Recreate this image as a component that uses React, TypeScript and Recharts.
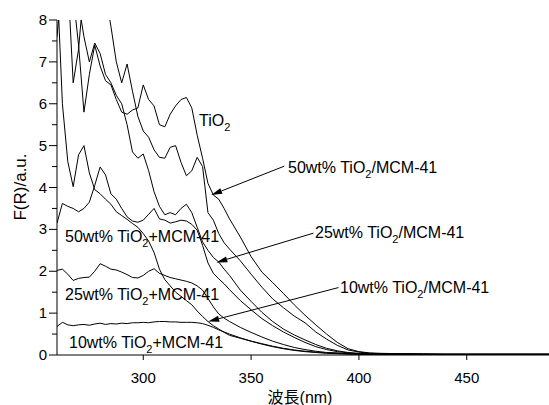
import { LineChart, Line, XAxis, YAxis, ReferenceLine } from "recharts";

// Diffuse reflectance spectra, Kubelka-Munk F(R) vs. wavelength (nm).
const WAVELENGTH = [
  260, 262.5, 265, 267.5, 270, 272.5, 275, 277.5, 280, 282.5, 285, 287.5, 290, 292.5, 295, 297.5,
  300, 302.5, 305, 307.5, 310, 312.5, 315, 317.5, 320, 322.5, 325, 327.5, 330, 332.5, 335, 337.5,
  340, 345, 350, 355, 360, 365, 370, 375, 380, 385, 390, 395, 400, 405, 410, 420, 430, 440, 450,
  460, 470, 480, 490,
];

const TIO2 = [
  9, 9, 9, 8.6, 7.4, 5.8, 6.7, 7.4, 6.9, 6.55, 6.45, 6.1, 5.8, 5.75, 5.85, 5.9,
  6.45, 6.1, 5.95, 5.5, 5.45, 5.75, 5.95, 6.1, 6.15, 5.9, 5.25, 4.7, 4.1, 3.82, 3.72, 3.5,
  3.25, 2.82, 2.35, 1.98, 1.73, 1.47, 1.2, 0.95, 0.72, 0.5, 0.3, 0.15, 0.08, 0.05, 0.04, 0.03, 0.03, 0.02, 0.02,
  0.02, 0.02, 0.02, 0.02,
];

const TIO2_MCM_50 = [
  9, 8.2, 9, 6.5, 7.3, 8.8, 9, 9, 9, 8.6, 7.85, 7.0, 6.5, 6.95, 6.3, 5.7,
  5.35, 5.2, 4.9, 4.72, 4.7, 4.96, 5.0, 4.6, 4.28, 4.4, 4.72, 4.5, 3.4, 3.22, 2.9, 2.68,
  2.53, 2.25, 1.93, 1.62, 1.34, 1.13, 0.93, 0.77, 0.55, 0.38, 0.23, 0.12, 0.07, 0.04, 0.03, 0.03, 0.02, 0.02, 0.02,
  0.02, 0.02, 0.02, 0.02,
];

const TIO2_MCM_25 = [
  7.6, 9, 9, 9, 8.4, 7.6, 7.0, 7.45, 7.2, 6.7, 6.5, 6.2, 6.0, 5.5, 4.85, 4.7,
  4.8, 4.4, 3.9, 3.55, 3.35, 3.4, 3.35, 3.5, 3.6, 3.4, 3.05, 2.7, 2.5, 2.33, 2.22, 2.05,
  1.9, 1.55, 1.28, 1.02, 0.8, 0.62, 0.48, 0.36, 0.25, 0.16, 0.1, 0.06, 0.04, 0.03, 0.02, 0.02, 0.02, 0.02, 0.02,
  0.02, 0.02, 0.02, 0.02,
];

const TIO2_MCM_10 = [
  9, 6.0, 4.62, 4.02, 4.78, 5.0, 4.35, 3.95, 3.85, 3.72, 3.6, 3.42, 3.33, 3.24, 3.14, 3.05,
  2.9, 2.72, 2.45, 2.05, 1.8, 1.65, 1.5, 1.4, 1.3, 1.2, 1.05, 0.92, 0.8, 0.7, 0.62, 0.54,
  0.47, 0.4, 0.33, 0.27, 0.21, 0.16, 0.12, 0.09, 0.07, 0.05, 0.04, 0.03, 0.02, 0.02, 0.02, 0.02, 0.01, 0.01, 0.01,
  0.01, 0.01, 0.01, 0.01,
];

const MIX_50 = [
  3.15, 3.62, 3.55, 3.5, 3.42, 3.5, 3.65, 4.05, 4.49, 4.3, 3.85, 3.72, 3.5, 3.3, 3.2, 3.17,
  3.22, 3.36, 3.5, 3.25, 3.22, 3.15, 3.18, 3.22, 3.2, 3.12, 2.98, 2.62, 2.2, 1.95, 1.82, 1.7,
  1.56, 1.3, 1.08, 0.87, 0.7, 0.55, 0.42, 0.3, 0.2, 0.13, 0.08, 0.05, 0.03, 0.02, 0.02, 0.02, 0.01, 0.01, 0.01,
  0.01, 0.01, 0.01, 0.01,
];

const MIX_25 = [
  2.02, 2.05, 1.93, 1.78, 1.83, 1.85, 1.86, 2.0, 2.18, 2.12, 2.05, 2.03, 1.98, 1.92, 1.85, 1.84,
  1.9, 2.0, 2.06, 1.95, 1.9, 1.85, 1.82, 1.79, 1.76, 1.72, 1.65, 1.55, 1.35, 1.15, 0.98, 0.88,
  0.8, 0.66, 0.54, 0.43, 0.33, 0.25, 0.18, 0.13, 0.09, 0.06, 0.05, 0.03, 0.02, 0.02, 0.01, 0.01, 0.01, 0.01, 0.01,
  0.01, 0.01, 0.01, 0.01,
];

const MIX_10 = [
  0.68, 0.78, 0.72, 0.7, 0.72, 0.73, 0.71, 0.74, 0.76, 0.73, 0.75, 0.74, 0.76, 0.75, 0.77, 0.77,
  0.78, 0.77, 0.79, 0.8, 0.8, 0.79, 0.79, 0.78, 0.78, 0.78, 0.77, 0.75, 0.71, 0.66, 0.6, 0.55,
  0.5, 0.41, 0.33, 0.26, 0.2, 0.15, 0.11, 0.08, 0.06, 0.04, 0.03, 0.02, 0.02, 0.01, 0.01, 0.01, 0.01, 0.01, 0.01,
  0.01, 0.01, 0.01, 0.01,
];

const SERIES = [TIO2, TIO2_MCM_50, TIO2_MCM_25, TIO2_MCM_10, MIX_50, MIX_25, MIX_10];

const X_TICKS = [300, 350, 400, 450];
const Y_TICKS = [0, 0.5, 1, 1.5, 2, 2.5, 3, 3.5, 4, 4.5, 5, 5.5, 6, 6.5, 7, 7.5, 8];

// arrows: [from wavelength, from F(R), to wavelength, to F(R)]
const ARROWS = [
  [365.4, 4.51, 331.5, 3.82],
  [378.9, 2.91, 333.9, 2.21],
  [390.5, 1.61, 330.1, 0.8],
];

const FONT = "'Liberation Sans', Arial, 'Noto Sans CJK JP', sans-serif";

const rows = WAVELENGTH.map((w, i) => {
  const row: Record<string, number> = { w };
  SERIES.forEach((s, k) => {
    row["s" + k] = s[i];
  });
  return row;
});

function YTick(props: any) {
  const { x, y, payload } = props;
  const major = Number.isInteger(payload.value);
  return (
    <g>
      <line x1={x - (major ? 8 : 5)} x2={x} y1={y} y2={y} stroke="#000" />
      {major && (
        <text x={x - 10} y={y} dy={5} textAnchor="end" fontSize={15} fontFamily={FONT} fill="#000">
          {payload.value}
        </text>
      )}
    </g>
  );
}

function XTick(props: any) {
  const { x, y, payload } = props;
  return (
    <text x={x} y={y} dy={23} textAnchor="middle" fontSize={15} fontFamily={FONT} fill="#000">
      {payload.value}
    </text>
  );
}

function Arrow(props: any) {
  const { x1, y1, x2, y2 } = props;
  const dx = x2 - x1;
  const dy = y2 - y1;
  const len = Math.sqrt(dx * dx + dy * dy);
  const ux = dx / len;
  const uy = dy / len;
  const hl = 11;
  const hw = 3;
  const bx = x2 - ux * hl;
  const by = y2 - uy * hl;
  const pts = `${x2},${y2} ${bx - uy * hw},${by + ux * hw} ${bx + uy * hw},${by - ux * hw}`;
  return (
    <g>
      <line x1={x1} y1={y1} x2={bx} y2={by} stroke="#000" strokeWidth={1} />
      <polygon points={pts} fill="#000" />
    </g>
  );
}

function Label({ x, y, pre, post }: { x: number; y: number; pre: string; post: string }) {
  return (
    <text x={x} y={y} fontSize={16} fontFamily={FONT} fill="#000">
      <tspan>{pre}</tspan>
      <tspan dy={5} fontSize={11}>2</tspan>
      {post && <tspan dy={-5}>{post}</tspan>}
    </text>
  );
}

export default function App() {
  return (
    <div
      style={{
        position: "absolute",
        left: 0,
        top: 0,
        width: 549,
        height: 405,
        overflow: "hidden",
        background: "#fff",
      }}
    >
      <LineChart width={553} height={405} data={rows} margin={{ top: 20, right: 0, bottom: 0, left: 0 }}>
        <XAxis
          dataKey="w"
          type="number"
          domain={[260, 490]}
          ticks={X_TICKS}
          allowDataOverflow
          height={50}
          tickSize={5}
          tickMargin={0}
          stroke="#000"
          tick={<XTick />}
        />
        <YAxis
          type="number"
          domain={[0, 8]}
          ticks={Y_TICKS}
          interval={0}
          allowDataOverflow
          width={57}
          tickSize={0}
          tickMargin={0}
          tickLine={false}
          stroke="#000"
          tick={<YTick />}
        />
        {SERIES.map((_, k) => (
          <Line
            key={k}
            dataKey={"s" + k}
            type="linear"
            stroke="#000"
            strokeWidth={1}
            dot={false}
            activeDot={false}
            isAnimationActive={false}
          />
        ))}
        {ARROWS.map((a, i) => (
          <ReferenceLine
            key={i}
            segment={[
              { x: a[0], y: a[1] },
              { x: a[2], y: a[3] },
            ]}
            shape={<Arrow />}
          />
        ))}
        <Label x={199} y={126} pre="TiO" post="" />
        <Label x={288} y={173} pre="50wt% TiO" post="/MCM-41" />
        <Label x={315} y={238} pre="25wt% TiO" post="/MCM-41" />
        <Label x={340} y={293} pre="10wt% TiO" post="/MCM-41" />
        <Label x={65} y={242} pre="50wt% TiO" post="+MCM-41" />
        <Label x={65} y={300} pre="25wt% TiO" post="+MCM-41" />
        <Label x={69} y={348} pre="10wt% TiO" post="+MCM-41" />
        <text
          x={26}
          y={187}
          transform="rotate(-90 26 187)"
          textAnchor="middle"
          fontSize={17}
          fontFamily={FONT}
          fill="#000"
        >
          F(R)/a.u.
        </text>
        <text x={300} y={403} textAnchor="middle" fontSize={16} fontFamily={FONT} fill="#000">
          波長(nm)
        </text>
      </LineChart>
    </div>
  );
}
